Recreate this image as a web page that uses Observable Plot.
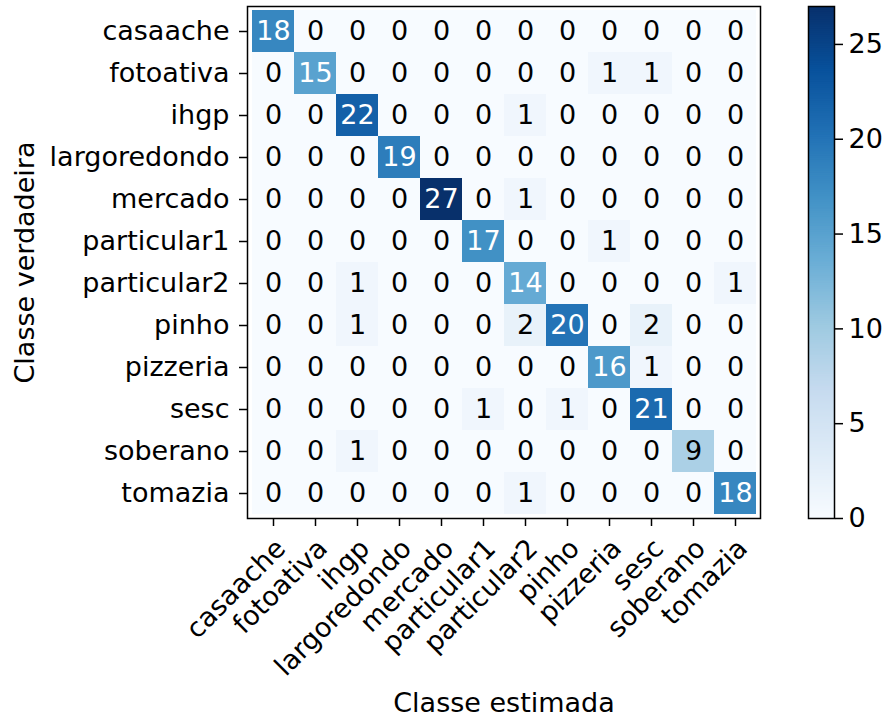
<!DOCTYPE html>
<html><head><meta charset="utf-8">
<script src="https://cdn.jsdelivr.net/npm/d3@7"></script>
<script src="https://cdn.jsdelivr.net/npm/@observablehq/plot@0.6"></script>
<style>
body{margin:0;background:#fff;}
#wrap{position:relative;width:891px;height:721px;background:#fff;}
#wrap svg{position:absolute;top:0;}
</style>
</head><body><div id="wrap"></div>
<script>
const classes = ["casaache","fotoativa","ihgp","largoredondo","mercado","particular1","particular2","pinho","pizzeria","sesc","soberano","tomazia"];
const rowCasaache    = [18,0,0,0,0,0,0,0,0,0,0,0];
const rowFotoativa   = [0,15,0,0,0,0,0,0,1,1,0,0];
const rowIhgp        = [0,0,22,0,0,0,1,0,0,0,0,0];
const rowLargoredondo= [0,0,0,19,0,0,0,0,0,0,0,0];
const rowMercado     = [0,0,0,0,27,0,1,0,0,0,0,0];
const rowParticular1 = [0,0,0,0,0,17,0,0,1,0,0,0];
const rowParticular2 = [0,0,1,0,0,0,14,0,0,0,0,1];
const rowPinho       = [0,0,1,0,0,0,2,20,0,2,0,0];
const rowPizzeria    = [0,0,0,0,0,0,0,0,16,1,0,0];
const rowSesc        = [0,0,0,0,0,1,0,1,0,21,0,0];
const rowSoberano    = [0,0,1,0,0,0,0,0,0,0,9,0];
const rowTomazia     = [0,0,0,0,0,0,1,0,0,0,0,18];
const rows = [rowCasaache,rowFotoativa,rowIhgp,rowLargoredondo,rowMercado,rowParticular1,rowParticular2,rowPinho,rowPizzeria,rowSesc,rowSoberano,rowTomazia];
const colorbarTicks = [0,5,10,15,20,25];
const vmax = 27;
const xTitle = "Classe estimada";
const yTitle = "Classe verdadeira";

const blues = ["#f7fbff","#deebf7","#c6dbef","#9ecae1","#6baed6","#4292c6","#2171b5","#08519c","#08306b"];
const color = {type:"linear", domain: blues.map((_,i)=>i*vmax/8), range: blues, interpolate:"rgb"};
const data = rows.flatMap((r,i)=>r.map((v,j)=>({truth: classes[i], pred: classes[j], v})));
const font = "DejaVu Sans";
const fs = 27;

const main = Plot.plot({
  width:891, height:721,
  marginLeft:247, marginRight:131, marginTop:6, marginBottom:203,
  style:{fontFamily:font, fontSize:fs+"px", background:"white", color:"black", overflow:"visible"},
  x:{domain:classes, padding:0},
  y:{domain:classes, padding:0},
  color,
  marks:[
    Plot.cell(data,{x:"pred", y:"truth", fill:"v", inset:0}),
    Plot.text(data.filter(d=>d.v>vmax/2),{x:"pred", y:"truth", text:"v", fill:"white", fontSize:fs}),
    Plot.text(data.filter(d=>d.v<=vmax/2),{x:"pred", y:"truth", text:"v", fill:"black", fontSize:fs}),
    Plot.axisY({tickSize:8, tickPadding:10, fontSize:fs, strokeWidth:1.5, label:yTitle, labelAnchor:"center", labelOffset:233}),
    Plot.axisX({tickSize:8, tickFormat:()=>"", fontSize:fs, strokeWidth:1.5, label:xTitle, labelAnchor:"center", labelOffset:193}),
    Plot.text(classes,{x:d=>d, frameAnchor:"bottom", dy:18, rotate:-45, textAnchor:"end", lineAnchor:"top", fontSize:fs, fill:"black"}),
    Plot.frame({stroke:"black", strokeWidth:1.5})
  ]
});
document.getElementById("wrap").appendChild(main);

const step = 0.1;
const steps = d3.range(0, vmax, step);
const bar = Plot.plot({
  width:83, height:721,
  marginLeft:0, marginRight:57, marginTop:6, marginBottom:203,
  style:{fontFamily:font, fontSize:fs+"px", background:"transparent", color:"black", overflow:"visible"},
  x:{domain:[0,1], axis:null},
  y:{domain:[0,vmax]},
  color,
  marks:[
    Plot.rect(steps,{x1:0, x2:1, y1:d=>d, y2:d=>Math.min(vmax, d+step*1.6), fill:d=>d+step/2}),
    Plot.axisY({anchor:"right", ticks:colorbarTicks, tickSize:8, tickPadding:6, fontSize:fs, strokeWidth:1.5, label:null}),
    Plot.frame({stroke:"black", strokeWidth:1.5})
  ]
});
bar.style.left = "808px";
document.getElementById("wrap").appendChild(bar);
</script>
</body></html>
